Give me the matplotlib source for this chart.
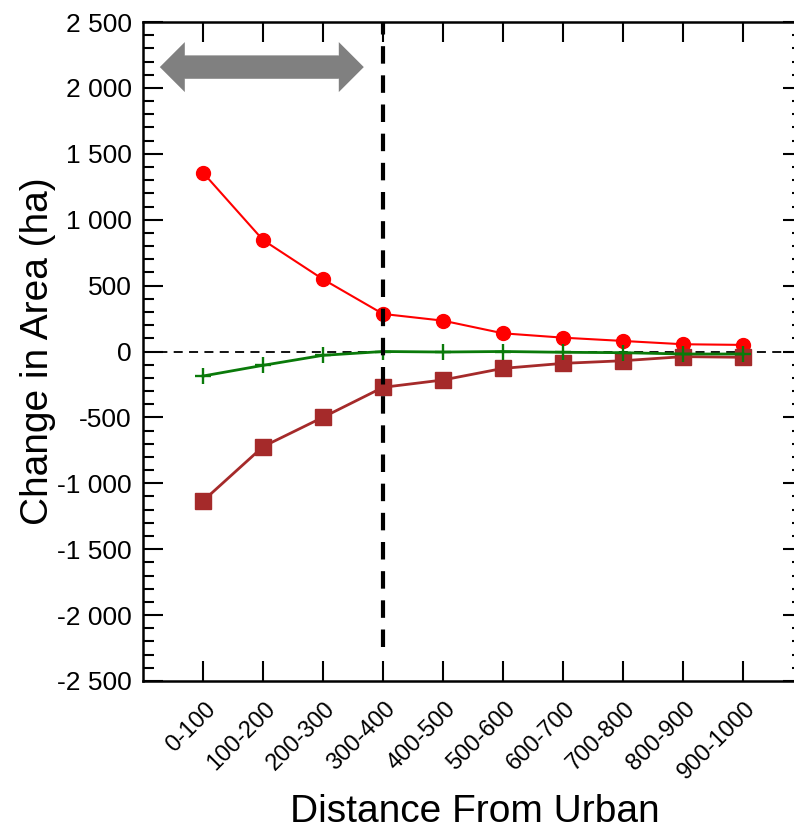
import matplotlib
matplotlib.use('Agg')
import matplotlib.pyplot as plt
from matplotlib.patches import FancyArrowPatch
from matplotlib.ticker import MultipleLocator
import matplotlib.transforms as mtrans

plt.rcParams['font.family'] = ['Liberation Sans', 'DejaVu Sans']

categories = ['0-100', '100-200', '200-300', '300-400', '400-500',
              '500-600', '600-700', '700-800', '800-900', '900-1000']
gain = [1357, 846, 548, 285, 234, 138, 105, 80, 55, 50]
loss = [-1134, -722, -499, -272, -216, -128, -90, -70, -39, -44]
net = [-186, -105, -29, 0, -4, 0, -6, -9, -19, -19]
yticks = [-2500, -2000, -1500, -1000, -500, 0, 500, 1000, 1500, 2000, 2500]
ytick_labels = ['-2 500', '-2 000', '-1 500', '-1 000', '-500', '0',
                '500', '1 000', '1 500', '2 000', '2 500']

x = list(range(len(categories)))

fig = plt.figure(figsize=(7.94, 8.35), dpi=100)
ax = fig.add_axes([143/794, 154/835, 660/794, 659/835])

ax.axhline(0, color='black', lw=1.3, ls=(0, (5, 3.5)), zorder=1)
ax.vlines(3, -2240, 2500, color='black', lw=3, ls=(0, (4.2, 2.8)), zorder=5)

ax.plot(x, gain, color='red', lw=1.5, marker='o', ms=10, zorder=3)
ax.plot(x, loss, color='#a52a2a', lw=2, marker='s', ms=11, zorder=3)
ax.plot(x, net, color='#0a7a0a', lw=2, marker='+', ms=11, mew=1.7, zorder=4)

# double headed arrow: two single arrows whose shafts overlap
arrow_y = 2158
left_tip, right_tip = -0.72, 2.68
head = 0.42
for a, b in ((right_tip - head, left_tip), (left_tip + head, right_tip)):
    ax.add_patch(FancyArrowPatch((a, arrow_y), (b, arrow_y),
                                 arrowstyle='simple,head_length=18,head_width=36,tail_width=16.5',
                                 mutation_scale=1, color='#808080', lw=0,
                                 shrinkA=0, shrinkB=0, zorder=2))

ax.set_xlim(-1, 10)
ax.set_ylim(-2500, 2500)
ax.set_yticks(yticks)
ax.set_yticklabels(ytick_labels, fontsize=19)
ax.yaxis.set_minor_locator(MultipleLocator(100))
ax.set_xticks(x)
ax.set_xticklabels([])

# rotated category labels, shifted a little right of the ticks like the original
trans = mtrans.blended_transform_factory(ax.transData, ax.transAxes) + \
    mtrans.ScaledTranslation(0.17, -0.17, fig.dpi_scale_trans)
for xi, lab in zip(x, categories):
    ax.text(xi, 0, lab, transform=trans, fontsize=17, rotation=45,
            ha='right', va='top', clip_on=False)

ax.tick_params(axis='both', which='both', direction='in', top=True, right=True, width=1.5)
ax.tick_params(axis='both', which='major', length=14.5)
ax.tick_params(axis='y', which='minor', length=8)
ax.tick_params(axis='y', which='major', pad=8)
for s in ax.spines.values():
    s.set_linewidth(1.8)

ax.set_ylabel('Change in Area (ha)', fontsize=28)
ax.yaxis.set_label_coords(-0.132, 0.5)
ax.set_xlabel('Distance From Urban', fontsize=28)
ax.xaxis.set_label_coords(0.502, -0.1715)

fig.savefig('out.png', dpi=100)
